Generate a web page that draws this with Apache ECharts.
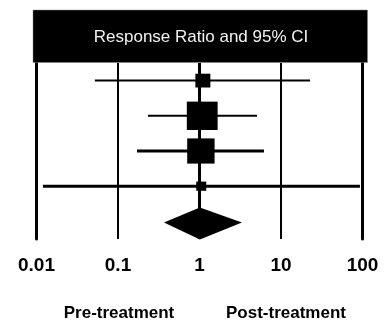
<!DOCTYPE html>
<html>
<head>
<meta charset="utf-8">
<script src="https://cdn.jsdelivr.net/npm/echarts@6/dist/echarts.min.js"></script>
<style>
html,body{margin:0;padding:0;background:#fff;}
#chart{width:388px;height:324px;}
</style>
</head>
<body>
<div id="chart"></div>
<script>
// ---- data ----
var studies = ['Study 1', 'Study 2', 'Study 3', 'Study 4'];
var estimates = [1.1, 1.08, 1.04, 1.05];
var lowerCI = [0.052, 0.233, 0.171, 0.012];
var upperCI = [22.7, 5.08, 6.18, 93];
var weights = [9, 38, 30, 4];
var overallLabel = 'Overall';
var overallEstimate = 1.01;
var overallLower = 0.366;
var overallUpper = 3.32;
var xTicks = [0.01, 0.1, 1, 10, 100];
var headerTitle = 'Response Ratio and 95% CI';
var favourLabels = ['Pre-treatment', 'Post-treatment'];

// ---- build ----
var categories = studies.concat([overallLabel]);
var ciData = studies.map(function (s, i) { return [lowerCI[i], upperCI[i], i]; });
var pointData = studies.map(function (s, i) { return [estimates[i], i, weights[i]]; });
var diamondData = [[overallLower, overallEstimate, overallUpper, studies.length]];
var ciWidths = [2, 2, 3, 3];

var chart = echarts.init(document.getElementById('chart'));

chart.setOption({
  animation: false,
  backgroundColor: '#ffffff',
  grid: { left: 36.5, right: 25.5, top: 63, bottom: 85 },
  xAxis: {
    type: 'log',
    logBase: 10,
    min: xTicks[0],
    max: xTicks[xTicks.length - 1],
    axisLine: { show: false },
    axisTick: { show: false },
    splitLine: { show: true, lineStyle: { color: '#000', width: 2 } },
    axisLabel: {
      margin: 17,
      color: '#000',
      fontFamily: 'Liberation Sans, Arial, sans-serif',
      fontWeight: 'bold',
      fontSize: 19,
      formatter: function (v) { return String(+v.toPrecision(3)); }
    }
  },
  yAxis: [{
    type: 'category',
    data: categories,
    inverse: true,
    boundaryGap: true,
    position: 'left',
    axisLine: { show: true, lineStyle: { color: '#000', width: 3 } },
    axisTick: { show: false },
    axisLabel: { show: false },
    splitLine: { show: false }
  }, {
    type: 'category',
    data: categories,
    inverse: true,
    position: 'right',
    axisLine: { show: true, lineStyle: { color: '#000', width: 3 } },
    axisTick: { show: false },
    axisLabel: { show: false },
    splitLine: { show: false }
  }],
  graphic: [
    {
      type: 'rect',
      shape: { x: 33, y: 10, width: 334.5, height: 52.5 },
      style: { fill: '#000', stroke: '#888', lineWidth: 0.5 },
      z: 100
    },
    {
      type: 'text',
      x: 201, y: 37,
      style: {
        text: headerTitle,
        fill: '#f2f2f2',
        font: '17px "Liberation Sans", Arial, sans-serif',
        align: 'center',
        verticalAlign: 'middle'
      },
      z: 101
    },
    {
      type: 'text',
      x: 119, y: 313,
      style: {
        text: favourLabels[0],
        fill: '#000',
        font: 'bold 17px "Liberation Sans", Arial, sans-serif',
        align: 'center',
        verticalAlign: 'middle'
      }
    },
    {
      type: 'text',
      x: 286, y: 313,
      style: {
        text: favourLabels[1],
        fill: '#000',
        font: 'bold 17px "Liberation Sans", Arial, sans-serif',
        align: 'center',
        verticalAlign: 'middle'
      }
    }
  ],
  series: [
    {
      type: 'custom',
      name: 'ci',
      data: ciData,
      encode: { x: [0, 1], y: 2 },
      renderItem: function (params, api) {
        var a = api.coord([api.value(0), api.value(2)]);
        var b = api.coord([api.value(1), api.value(2)]);
        return {
          type: 'line',
          shape: { x1: a[0], y1: a[1], x2: b[0], y2: b[1] },
          style: { stroke: '#000', lineWidth: ciWidths[params.dataIndex] }
        };
      },
      z: 3
    },
    {
      type: 'scatter',
      name: 'points',
      data: pointData,
      symbol: 'rect',
      symbolSize: function (d) { var w = 5 * Math.sqrt(d[2]); return [w, w * 0.92]; },
      itemStyle: { color: '#000', opacity: 1 },
      z: 4,
      markLine: {
        silent: true,
        symbol: 'none',
        label: { show: false },
        lineStyle: { color: '#000', width: 3, type: 'solid', opacity: 1 },
        data: [{ xAxis: 1 }]
      }
    },
    {
      type: 'custom',
      name: 'overall',
      data: diamondData,
      encode: { x: [0, 1, 2], y: 3 },
      renderItem: function (params, api) {
        var y = api.value(3);
        var l = api.coord([api.value(0), y]);
        var c = api.coord([api.value(1), y]);
        var r = api.coord([api.value(2), y]);
        return {
          type: 'polygon',
          shape: { points: [[l[0], c[1] + 1], [c[0], c[1] - 14], [r[0], c[1] + 1], [c[0], c[1] + 18]] },
          style: { fill: '#000' }
        };
      },
      z: 4
    }
  ]
});
</script>
</body>
</html>
